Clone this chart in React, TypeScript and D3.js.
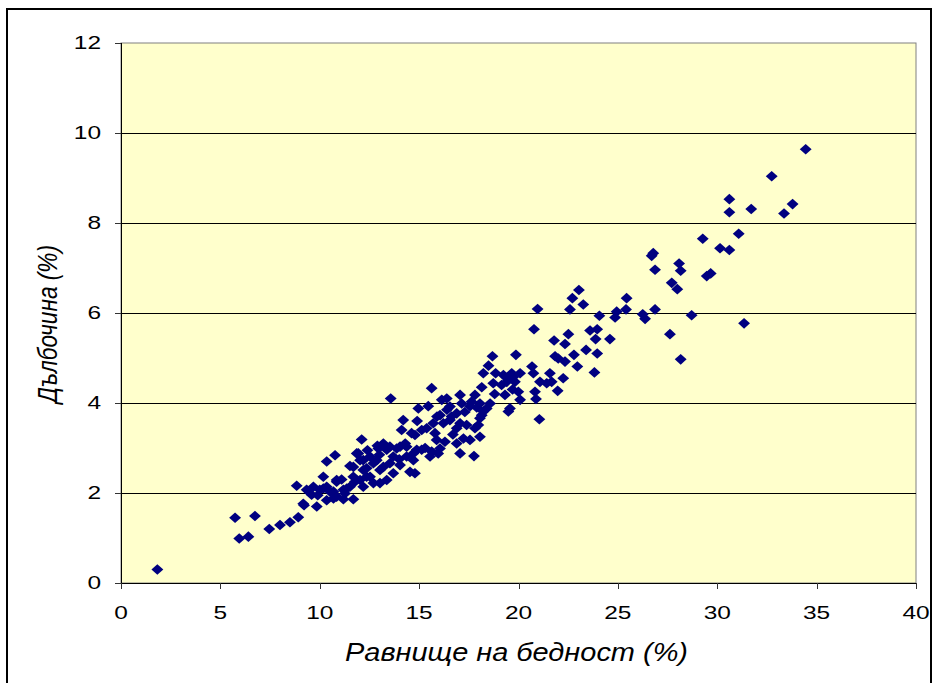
import React from 'react';
import * as d3 from 'd3';

// poverty rate (%) and depth (%) for each region
const poverty = [
  1.83, 5.74, 6.74, 5.95, 6.41, 7.46, 8.0, 8.5, 8.92, 9.21, 9.85, 9.17, 8.84, 9.34, 9.68, 9.59,
  10.18, 10.52, 10.85, 11.27, 10.35, 10.69, 11.19, 11.69, 10.0, 10.35, 10.85, 10.69, 11.19, 11.52,
  11.77, 11.36, 11.69, 12.03, 12.53, 12.7, 12.19, 10.18, 10.85, 10.77, 10.35, 11.52, 11.94, 12.19,
  12.36, 12.7, 13.03, 13.37, 13.7, 14.04, 13.37, 13.03, 12.95, 12.11, 11.86, 11.69, 12.03, 12.53,
  12.87, 13.2, 13.53, 14.04, 13.7, 15.55, 14.54, 14.79, 12.19, 12.36, 13.2, 13.53, 13.87, 14.88,
  14.37, 14.71, 15.88, 16.3, 16.89, 17.23, 17.56, 18.06, 16.05, 15.63, 15.96, 17.06, 17.76, 14.79,
  15.13, 15.38, 14.2, 14.12, 15.71, 16.05, 16.55, 16.89, 17.06, 17.98, 17.81, 14.96, 15.46, 18.57,
  18.4, 18.15, 15.63, 13.57, 16.39, 17.06, 16.55, 16.14, 17.81, 17.64, 17.14, 17.56, 18.06, 16.63,
  16.22, 15.8, 16.89, 17.39, 18.06, 18.23, 14.37, 14.71, 14.62, 15.13, 18.69, 18.49, 18.23, 18.85,
  19.57, 19.15, 18.73, 18.15, 19.66, 19.41, 19.82, 19.24, 19.74, 20.08, 19.32, 19.99, 20.08, 20.83,
  20.88, 19.57, 19.49, 21.05, 19.87, 20.68, 20.75, 21.58, 21.67, 21.42, 22.25, 21.08, 21.97, 22.96,
  23.82, 21.84, 22.0, 22.34, 22.79, 23.96, 23.4, 22.34, 22.51, 21.79, 23.88, 24.6, 23.6, 23.96,
  20.78, 24.07, 20.96, 22.59, 23.26, 22.71, 23.04, 25.44, 25.41, 24.94, 24.86, 28.16, 26.25, 26.37,
  26.87, 28.71, 31.35, 27.62, 27.71, 27.99, 29.47, 29.67, 28.08, 28.16, 26.87, 26.78, 26.7, 30.14,
  30.61, 29.27, 31.08, 33.36, 33.79, 31.71, 30.61, 30.61, 32.74, 34.45,
  12.4, 13.0, 14.3, 14.9, 15.3, 15.9, 16.4, 16.7, 17.3, 17.9, 14.0, 12.9, 11.1, 9.9, 18.8, 19.7,
];
const depth = [
  0.3, 1.45, 1.49, 0.99, 1.03, 1.2, 1.29, 1.35, 1.46, 1.73, 1.7, 1.76, 2.16, 2.07, 2.14, 1.96,
  2.1, 2.03, 1.92, 1.99, 1.84, 1.88, 1.86, 1.86, 2.07, 2.14, 2.25, 2.03, 2.07, 2.14,
  2.25, 2.1, 2.36, 2.29, 2.36, 2.22, 2.14, 2.36, 2.29, 2.84, 2.7, 2.6, 2.88, 2.73,
  2.55, 2.66, 2.51, 2.96, 2.81, 3.03, 2.29, 2.22, 2.99, 3.19, 2.88, 2.58, 2.73, 2.81,
  2.73, 2.58, 2.66, 2.62, 2.44, 2.81, 2.47, 2.44, 2.51, 2.36, 3.1, 3.03, 2.99, 2.96,
  2.81, 2.73, 3.18, 3.14, 3.1, 3.21, 3.18, 3.25, 2.99, 2.92, 2.88, 2.88, 2.82, 3.29,
  3.4, 3.44, 3.62, 3.4, 3.55, 3.73, 3.62, 3.77, 3.55, 3.51, 3.44, 3.88, 3.93, 3.99,
  3.88, 3.73, 4.33, 4.1, 4.1, 4.18, 3.92, 4.07, 4.18, 4.03, 3.99, 3.93, 3.99, 3.7,
  3.55, 3.33, 3.44, 3.51, 3.66, 3.81, 3.03, 2.88, 3.33, 2.96, 5.04, 4.83, 4.66, 4.66,
  4.55, 4.4, 4.44, 4.35, 4.66, 4.47, 4.47, 4.62, 4.58, 4.66, 4.18, 4.25, 4.07, 4.25,
  4.09, 3.88, 3.81, 3.64, 5.07, 4.81, 4.66, 4.66, 4.47, 4.44, 4.55, 4.47, 4.27, 4.81,
  4.68, 5.04, 4.99, 4.92, 5.07, 5.1, 5.18, 5.31, 5.53, 5.39, 5.42, 5.42, 5.61, 5.64,
  5.64, 5.94, 6.09, 6.08, 6.19, 6.33, 6.51, 6.33, 6.08, 6.03, 5.9, 4.97, 5.97, 5.87,
  6.08, 5.95, 5.77, 5.53, 6.67, 6.53, 6.82, 6.88, 7.1, 6.94, 6.96, 7.33, 7.27, 7.44,
  7.4, 7.65, 7.76, 8.21, 8.42, 8.31, 8.24, 8.53, 9.04, 9.64,
  2.95, 2.85, 3.1, 3.6, 3.0, 3.7, 3.85, 3.3, 3.8, 3.9, 2.75, 3.05, 2.3, 1.95, 4.2, 4.3,
];
const xTicks = [0, 5, 10, 15, 20, 25, 30, 35, 40];
const yTicks = [0, 2, 4, 6, 8, 10, 12];
const xTitle = 'Равнище на бедност (%)';
const yTitle = 'Дълбочина (%)';

const W = 937, H = 683;
const plot = { left: 121, top: 43, right: 916, bottom: 583 };
const font = 'Arial, "Liberation Sans", sans-serif';
// the original picture is stretched sideways, text too
const stretch = 1.4;

export default function App() {
  const x = d3.scaleLinear().domain([0, 40]).range([plot.left, plot.right]);
  const y = d3.scaleLinear().domain([0, 12]).range([plot.bottom, plot.top]);
  const diamond = d3.symbol().type(d3.symbolSquare).size(56)();
  const points = poverty.map((p, i) => ({ p, d: depth[i] }));

  return (
    <svg width={W} height={H} style={{ position: 'absolute', left: 0, top: 0, background: '#fff' }}>
      <rect x={7} y={9} width={924} height={682} fill="#fff" stroke="#000" strokeWidth={2} />
      <rect x={plot.left} y={plot.top} width={plot.right - plot.left} height={plot.bottom - plot.top}
        fill="#FFFFCC" stroke="#808080" strokeWidth={1} />
      {yTicks.filter(t => t > 0 && t < 12).map(t => (
        <line key={'g' + t} x1={plot.left} x2={plot.right} y1={Math.round(y(t)) + 0.5} y2={Math.round(y(t)) + 0.5}
          stroke="#000" strokeWidth={1} />
      ))}
      {/* axes */}
      <line x1={plot.left + 0.5} x2={plot.left + 0.5} y1={plot.top} y2={plot.bottom} stroke="#000" />
      <line x1={plot.left} x2={plot.right} y1={plot.bottom + 0.5} y2={plot.bottom + 0.5} stroke="#000" />
      {yTicks.map(t => (
        <g key={'y' + t}>
          <line x1={plot.left - 6} x2={plot.left} y1={Math.round(y(t)) + 0.5} y2={Math.round(y(t)) + 0.5} stroke="#333" />
          <text transform={`translate(101,${y(t)}) scale(${stretch},1)`} dy="0.35em" textAnchor="end"
            fontFamily={font} fontSize={17.5}>{t}</text>
        </g>
      ))}
      {xTicks.map(t => (
        <g key={'x' + t}>
          <line x1={Math.round(x(t)) + 0.5} x2={Math.round(x(t)) + 0.5} y1={plot.bottom} y2={plot.bottom + 6} stroke="#333" />
          <text transform={`translate(${x(t)},619) scale(${stretch},1)`} textAnchor="middle"
            fontFamily={font} fontSize={17.5}>{t}</text>
        </g>
      ))}
      {points.map((pt, i) => (
        <path key={i} d={diamond!} transform={`translate(${x(pt.p)},${y(pt.d)}) scale(1.12,1) rotate(45)`} fill="#000080" />
      ))}
      <text x={516.5} y={661} textAnchor="middle" fontFamily={font} fontSize={25} fontStyle="italic"
        textLength={343} lengthAdjust="spacingAndGlyphs">{xTitle}</text>
      <text transform={`translate(57,324) rotate(-90) scale(1,${stretch})`} textAnchor="middle" fontFamily={font}
        fontSize={20} fontStyle="italic" textLength={158} lengthAdjust="spacingAndGlyphs">{yTitle}</text>
    </svg>
  );
}
